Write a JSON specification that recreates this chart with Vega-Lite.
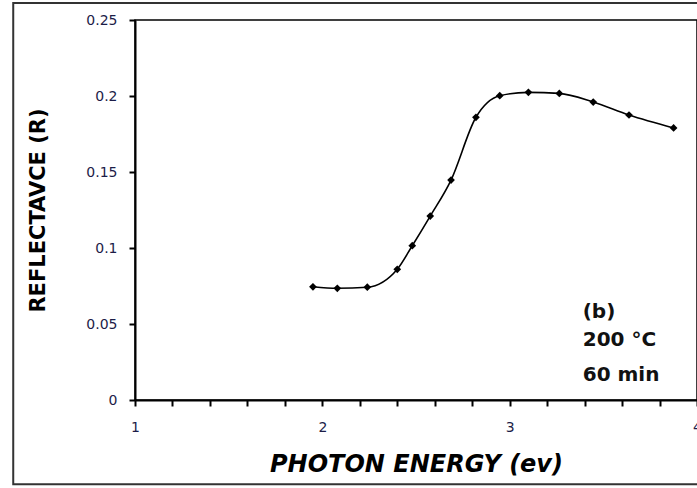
{
  "$schema": "https://vega.github.io/schema/vega-lite/v6.json",
  "autosize": {"type": "none"},
  "width": 562,
  "height": 380,
  "padding": {"left": 135, "top": 20, "right": 0, "bottom": 88},
  "background": "white",
  "config": {
    "view": {"stroke": "#000", "strokeWidth": 1.5},
    "font": "DejaVu Sans",
    "axis": {"labelOverlap": false}
  },
  "datasets": {
    "pts": [
      {"e": 1.95, "r": 0.0745},
      {"e": 2.08, "r": 0.0735},
      {"e": 2.24, "r": 0.0742},
      {"e": 2.40, "r": 0.086},
      {"e": 2.48, "r": 0.1015},
      {"e": 2.576, "r": 0.121},
      {"e": 2.687, "r": 0.1447},
      {"e": 2.82, "r": 0.186},
      {"e": 2.947, "r": 0.2002},
      {"e": 3.10, "r": 0.2024},
      {"e": 3.265, "r": 0.2017},
      {"e": 3.446, "r": 0.196},
      {"e": 3.637, "r": 0.1875},
      {"e": 3.875, "r": 0.179}
    ],
    "notes": [
      {"e": 3.39, "r": 0.058, "t": "(b)"},
      {"e": 3.39, "r": 0.0395, "t": "200 °C"},
      {"e": 3.39, "r": 0.0164, "t": "60 min"}
    ],
    "frame": [
      {"x1": 0.35, "x2": 4.1, "y1": -0.0555, "y2": 0.2612}
    ]
  },
  "layer": [
    {
      "data": {"name": "frame"},
      "mark": {"type": "rect", "fill": null, "stroke": "#333", "strokeWidth": 2, "clip": false},
      "encoding": {
        "x": {"field": "x1", "type": "quantitative", "scale": {"domain": [1, 4]}},
        "x2": {"field": "x2"},
        "y": {"field": "y1", "type": "quantitative", "scale": {"domain": [0, 0.25]}},
        "y2": {"field": "y2"}
      }
    },
    {
      "data": {"name": "pts"},
      "mark": {"type": "line", "interpolate": "monotone", "color": "#000", "strokeWidth": 1.6},
      "encoding": {
        "x": {
          "field": "e", "type": "quantitative",
          "scale": {"domain": [1, 4], "nice": false, "zero": false},
          "axis": {
            "values": [1, 1.2, 1.4, 1.6, 1.8, 2, 2.2, 2.4, 2.6, 2.8, 3, 3.2, 3.4, 3.6, 3.8, 4],
            "tickCount": 30,
            "format": "~g",
            "labelExpr": "abs(datum.value - round(datum.value)) < 0.001 ? datum.label : ''",
            "labelOverlap": false,
            "labelBound": false,
            "grid": false,
            "domainColor": "#000", "domainWidth": 2,
            "tickColor": "#000", "tickWidth": 2, "tickSize": 6,
            "labelFontSize": 14, "labelColor": "#1c1c48", "labelPadding": 14,
            "labelFlush": false,
            "title": "PHOTON ENERGY (ev)",
            "titleFontSize": 24, "titleFontStyle": "italic", "titleFontWeight": "bold",
            "titleColor": "#000", "titlePadding": 18
          }
        },
        "y": {
          "field": "r", "type": "quantitative",
          "scale": {"domain": [0, 0.25], "nice": false},
          "axis": {
            "values": [0, 0.05, 0.1, 0.15, 0.2, 0.25],
            "tickCount": 10,
            "format": "~g",
            "grid": false,
            "domainColor": "#000", "domainWidth": 2,
            "tickColor": "#000", "tickWidth": 2, "tickSize": 6,
            "labelFontSize": 14, "labelColor": "#1c1c48", "labelPadding": 12,
            "title": "REFLECTAVCE (R)",
            "titleFontSize": 21, "titleFontWeight": "bold", "titleColor": "#000",
            "titlePadding": 37
          }
        }
      }
    },
    {
      "data": {"name": "pts"},
      "mark": {"type": "point", "shape": "diamond", "filled": true, "color": "#000", "size": 60, "opacity": 1},
      "encoding": {
        "x": {"field": "e", "type": "quantitative"},
        "y": {"field": "r", "type": "quantitative"}
      }
    },
    {
      "data": {"name": "notes"},
      "mark": {"type": "text", "align": "left", "baseline": "middle", "fontSize": 20, "fontWeight": "bold", "color": "#111"},
      "encoding": {
        "x": {"field": "e", "type": "quantitative"},
        "y": {"field": "r", "type": "quantitative"},
        "text": {"field": "t"}
      }
    }
  ]
}
